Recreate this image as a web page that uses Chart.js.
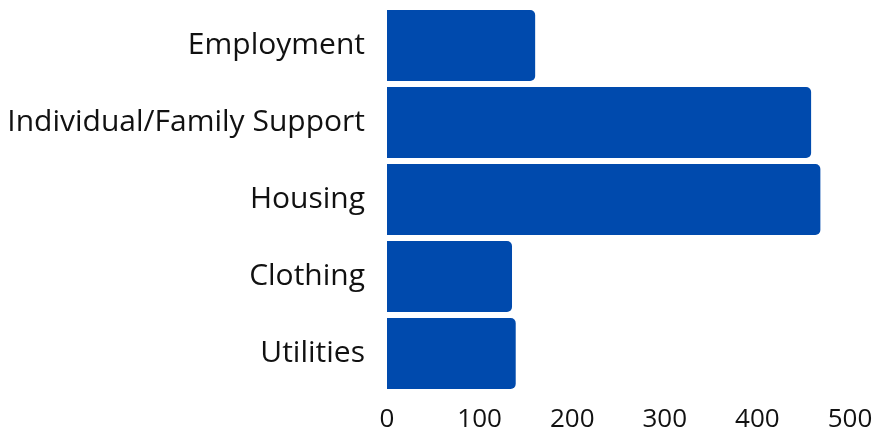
<!DOCTYPE html>
<html>
<head>
<meta charset="utf-8">
<script src="https://cdn.jsdelivr.net/npm/chart.js@4/dist/chart.umd.min.js"></script>
<style>
  html, body { margin: 0; padding: 0; background: #fff; }
  #wrap { width: 878px; height: 430px; position: relative; }
</style>
</head>
<body>
<div id="wrap"><canvas id="bars"></canvas></div>
<script>
const categories = ["Employment", "Individual/Family Support", "Housing", "Clothing", "Utilities"];
const requests = [160, 458, 468, 135, 139];
const xTicks = [0, 100, 200, 300, 400, 500];

const barBlue = "#004AAD";
const fontFamily = "'Open Sans', 'Noto Sans', sans-serif";

new Chart(document.getElementById("bars").getContext("2d"), {
    type: "bar",
    data: {
        labels: categories,
        datasets: [{
            data: requests,
            backgroundColor: barBlue,
            borderRadius: 5,
            borderSkipped: "start",
            categoryPercentage: 1,
            barPercentage: 0.92
        }]
    },
    options: {
        indexAxis: "y",
        responsive: true,
        maintainAspectRatio: false,
        animation: false,
        devicePixelRatio: 1,
        layout: { padding: { top: 7, right: 28, bottom: 0, left: 0 } },
        plugins: { legend: { display: false }, tooltip: { enabled: false } },
        scales: {
            x: {
                min: xTicks[0],
                max: xTicks[xTicks.length - 1],
                afterBuildTicks: function (axis) {
                    axis.ticks = xTicks.map(function (v) { return { value: v }; });
                },
                grid: { display: false, drawTicks: false },
                border: { display: false },
                ticks: { color: "#111", padding: 12, maxRotation: 0, font: { family: fontFamily, size: 26 } },
                afterFit: function (axis) {
                    axis.height = 38;
                    axis.paddingLeft = 0;
                    axis.paddingRight = 0;
                }
            },
            y: {
                grid: { display: false, drawTicks: false },
                border: { display: false },
                ticks: { color: "#111", padding: 22, font: { family: fontFamily, size: 30 } },
                afterFit: function (axis) {
                    axis.width = 387;
                    axis.paddingTop = 0;
                    axis.paddingBottom = 0;
                }
            }
        }
    }
});
</script>
</body>
</html>
